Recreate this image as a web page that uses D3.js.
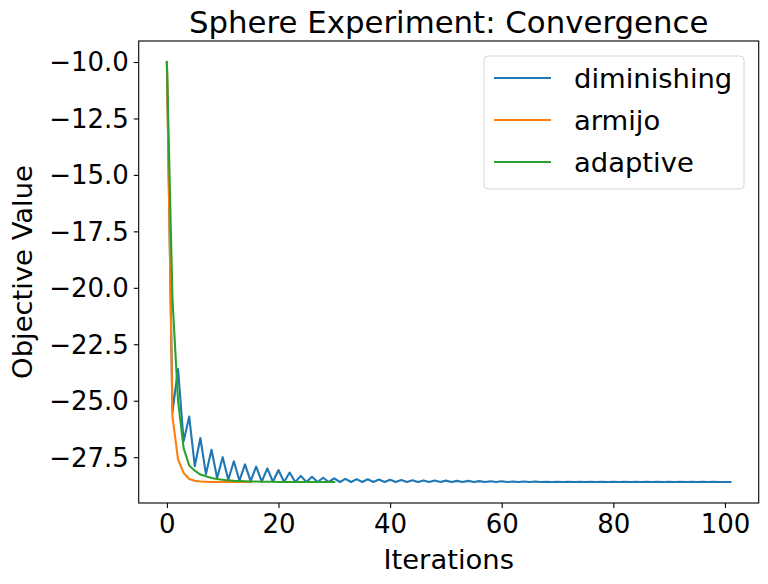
<!DOCTYPE html>
<html>
<head>
<meta charset="utf-8">
<script src="https://cdn.jsdelivr.net/npm/d3@7"></script>
<style>
  body { margin: 0; background: #fff; }
  text { font-family: "DejaVu Sans", sans-serif; fill: #000; }
</style>
</head>
<body>
<svg id="chart" width="768" height="584"></svg>
<script>
// Series values
const seriesNames = ['diminishing', 'armijo', 'adaptive'];
const seriesColors = ['#1f77b4', '#ff7f0e', '#2ca02c'];

const diminishing = [
  -10, -25.5, -23.6, -26.8, -25.7, -27.9, -26.65, -28.25, -27.17, -28.42,
  -27.5, -28.5, -27.68, -28.54, -27.82, -28.56, -27.92, -28.58, -28.0, -28.59,
  -28.07, -28.6, -28.18, -28.6, -28.33, -28.6, -28.37, -28.6, -28.41, -28.6,
  -28.44, -28.6, -28.46, -28.6, -28.47, -28.6, -28.48, -28.6, -28.49, -28.6,
  -28.5, -28.6, -28.51, -28.6, -28.52, -28.6, -28.53, -28.6, -28.53, -28.6,
  -28.54, -28.6, -28.55, -28.6, -28.55, -28.6, -28.56, -28.6, -28.57, -28.6,
  -28.57, -28.6, -28.58, -28.6, -28.58, -28.6, -28.58, -28.6, -28.59, -28.6,
  -28.59, -28.6, -28.59, -28.6, -28.59, -28.6, -28.59, -28.6, -28.59, -28.6,
  -28.59, -28.6, -28.59, -28.6, -28.59, -28.6, -28.59, -28.6, -28.59, -28.6,
  -28.59, -28.6, -28.59, -28.6, -28.59, -28.6, -28.59, -28.6, -28.59, -28.6,
  -28.6, -28.6
];
const armijo = [
  -10, -25.7, -27.6, -28.2, -28.47, -28.55, -28.58, -28.59, -28.6, -28.6,
  -28.6, -28.6, -28.6, -28.6, -28.6, -28.6
];
const adaptive = [
  -10, -20.5, -25.0, -27.1, -27.87, -28.1, -28.27, -28.35, -28.42, -28.47,
  -28.5, -28.53, -28.55, -28.56, -28.57, -28.58, -28.58, -28.59, -28.59, -28.59,
  -28.6, -28.6, -28.6, -28.6, -28.6, -28.6, -28.6, -28.6, -28.6, -28.6,
  -28.6
];

const xTicks = [0, 20, 40, 60, 80, 100];
const yTicks = [-10, -12.5, -15, -17.5, -20, -22.5, -25, -27.5];

const allSeries = [diminishing, armijo, adaptive];

// Axes box
const margin = { left: 138.7, right: 768 - 758.7, top: 41, bottom: 584 - 503 };
const width = 768 - margin.left - margin.right;
const height = 584 - margin.top - margin.bottom;

const svg = d3.select('#chart');
const g = svg.append('g').attr('transform', `translate(${margin.left},${margin.top})`);

// matplotlib-like 5% padding
const xMax = d3.max(allSeries, (s) => s.length - 1);
const yMin = d3.min(allSeries, (s) => d3.min(s));
const yMax = d3.max(allSeries, (s) => d3.max(s));
const xPad = xMax * 0.05;
const yPad = (yMax - yMin) * 0.05;

const x = d3.scaleLinear().domain([-xPad, xMax + xPad]).range([0, width]);
const y = d3.scaleLinear().domain([yMin - yPad, yMax + yPad]).range([height, 0]);

// Lines
const line = d3.line().x((d, i) => x(i)).y((d) => y(d));
allSeries.forEach((s, i) => {
  g.append('path')
    .datum(s)
    .attr('d', line)
    .attr('fill', 'none')
    .attr('stroke', seriesColors[i])
    .attr('stroke-width', 2.1)
    .attr('stroke-linejoin', 'round')
    .attr('stroke-linecap', 'square');
});

// Axes
const tickSize = 26;
const labelSize = 27.4;
const titleSize = 30.8;
const xAxis = g.append('g')
  .attr('transform', `translate(0,${height})`)
  .call(d3.axisBottom(x).tickValues(xTicks).tickSize(4.9).tickPadding(4.9).tickFormat(d3.format('d')));
const yAxis = g.append('g')
  .call(d3.axisLeft(y).tickValues(yTicks).tickSize(4.9).tickPadding(4.9).tickFormat(d3.format('.1f')));

[xAxis, yAxis].forEach((ax) => {
  ax.select('.domain').remove();
  ax.selectAll('line').attr('stroke', '#000').attr('stroke-width', 1.1);
  ax.selectAll('text')
    .attr('font-family', '"DejaVu Sans", sans-serif')
    .attr('font-size', tickSize)
    .attr('fill', '#000');
});
xAxis.selectAll('text').attr('dy', '0.76em');
yAxis.selectAll('text').attr('dy', '0.34em');

// Frame
g.append('rect')
  .attr('width', width)
  .attr('height', height)
  .attr('fill', 'none')
  .attr('stroke', '#000')
  .attr('stroke-width', 1.1);

// Title and labels
svg.append('text')
  .attr('x', margin.left + width / 2)
  .attr('y', 33)
  .attr('text-anchor', 'middle')
  .attr('font-size', titleSize)
  .text('Sphere Experiment: Convergence');

svg.append('text')
  .attr('x', margin.left + width / 2)
  .attr('y', 569)
  .attr('text-anchor', 'middle')
  .attr('font-size', labelSize)
  .text('Iterations');

svg.append('text')
  .attr('transform', `translate(32,${margin.top + height / 2}) rotate(-90)`)
  .attr('text-anchor', 'middle')
  .attr('font-size', labelSize)
  .text('Objective Value');

// Legend
const legend = svg.append('g').attr('transform', 'translate(484,56)');
legend.append('rect')
  .attr('width', 260)
  .attr('height', 133)
  .attr('rx', 4)
  .attr('fill', 'rgba(255,255,255,0.8)')
  .attr('stroke', '#d6d6d6')
  .attr('stroke-width', 1);

seriesNames.forEach((name, i) => {
  const row = legend.append('g').attr('transform', `translate(0,${22 + i * 42})`);
  row.append('line')
    .attr('x1', 10).attr('x2', 67)
    .attr('y1', 0).attr('y2', 0)
    .attr('stroke', seriesColors[i])
    .attr('stroke-width', 2.1);
  row.append('text')
    .attr('x', 90)
    .attr('dy', '0.35em')
    .attr('font-size', labelSize)
    .text(name);
});
</script>
</body>
</html>
